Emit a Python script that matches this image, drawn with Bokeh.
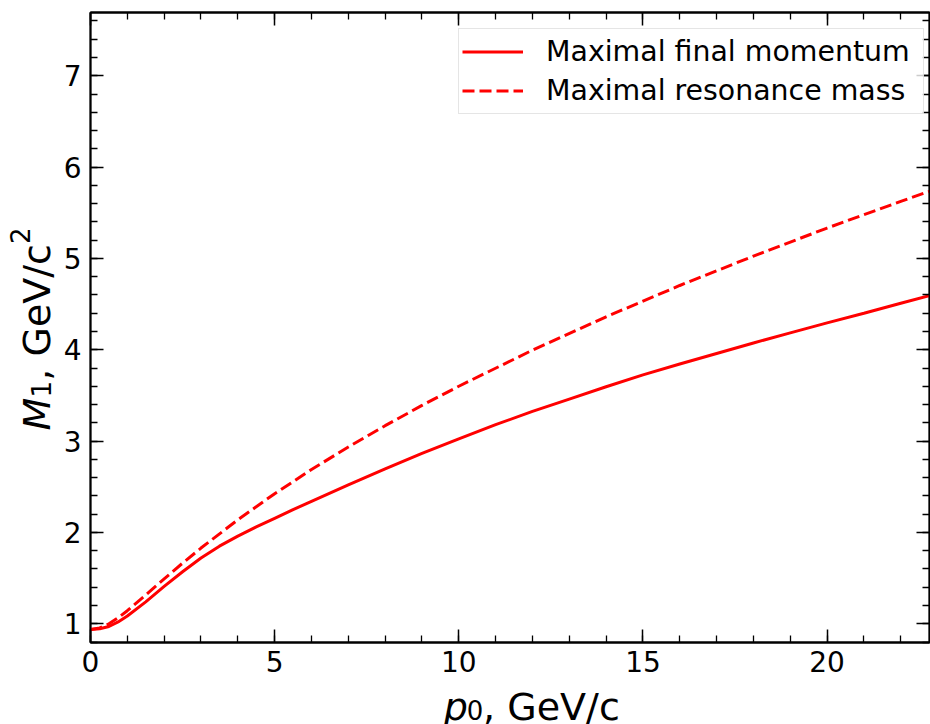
from bokeh.plotting import figure
from bokeh.models import (LinearAxis, SingleIntervalTicker, Range1d, Legend,
                          LegendItem, CustomJSTickFormatter)
from bokeh.layouts import row, column
from bokeh.core.properties import value
from bokeh.embed import file_html
from bokeh.resources import INLINE
import math

# ---- data ----
p0_solid = [0, 0.25, 0.5, 0.75, 1, 1.5, 2, 2.5, 3, 3.5, 4, 4.5, 5, 5.5, 6, 7, 8, 9, 10,
            11, 12, 13, 14, 15, 16, 17, 18, 19, 20, 21, 22, 22.8]
m1_solid = [0.938, 0.945, 0.97, 1.02, 1.085, 1.24, 1.41, 1.57, 1.72, 1.85, 1.96, 2.06,
            2.155, 2.25, 2.34, 2.52, 2.695, 2.865, 3.025, 3.18, 3.325, 3.46, 3.595, 3.725,
            3.845, 3.96, 4.075, 4.185, 4.295, 4.40, 4.51, 4.595]
p0_dash = [0, 0.25, 0.5, 0.75, 1, 1.5, 2, 2.5, 3, 4, 5, 6, 7, 8, 9, 10, 12, 14, 16,
           18, 20, 22, 22.8]
m1_dash = [0.938, 0.954, 1.0, 1.065, 1.143, 1.316, 1.492, 1.664, 1.829, 2.139, 2.424,
           2.689, 2.936, 3.169, 3.391, 3.601, 3.996, 4.361, 4.704, 5.026, 5.333, 5.625,
           5.738]
legend_labels = ["Maximal final momentum", "Maximal resonance mass"]
x_range = (0, 22.78)
y_range = (0.795, 7.693)

FONT = "DejaVu Sans"
TICK_PX = "28px"
LABEL_PX = "38px"
SCRIPT_PX = "26px"
LEFT_W = 56
MAIN_W = 930 - LEFT_W
MAIN_H = 686
BOTTOM_H = 724 - MAIN_H
SHIFT = 14  # compensation of the text glyph baseline offset

p = figure(width=MAIN_W, height=MAIN_H, output_backend="svg", toolbar_location=None,
           x_range=Range1d(*x_range), y_range=Range1d(*y_range),
           min_border_left=34, min_border_right=1, min_border_top=12, min_border_bottom=44,
           x_axis_location=None, y_axis_location=None)
p.grid.visible = False
p.outline_line_color = "black"
p.outline_line_width = 1.8
p.background_fill_color = "white"
p.border_fill_color = "white"

blank = CustomJSTickFormatter(code="return ''")

def style_axis(ax, labels=True):
    ax.axis_line_color = "black"
    ax.axis_line_width = 1.8
    ax.major_tick_in = 13
    ax.major_tick_out = 0
    ax.minor_tick_in = 7
    ax.minor_tick_out = 0
    ax.major_tick_line_width = 1.5
    ax.minor_tick_line_width = 1.3
    ax.major_tick_line_color = "black"
    ax.minor_tick_line_color = "black"
    if labels:
        ax.major_label_text_font = FONT
        ax.major_label_text_font_size = TICK_PX
        ax.major_label_text_color = "black"
    else:
        ax.formatter = blank
        ax.major_label_standoff = 0
        ax.major_label_text_font_size = "1px"

xb = LinearAxis(ticker=SingleIntervalTicker(interval=5, num_minor_ticks=5))
style_axis(xb)
xb.major_label_standoff = 8
xt = LinearAxis(ticker=SingleIntervalTicker(interval=5, num_minor_ticks=5))
style_axis(xt, labels=False)
yl = LinearAxis(ticker=SingleIntervalTicker(interval=1, num_minor_ticks=5))
style_axis(yl)
yl.major_label_standoff = 9
yr = LinearAxis(ticker=SingleIntervalTicker(interval=1, num_minor_ticks=5))
style_axis(yr, labels=False)
p.add_layout(xb, "below")
p.add_layout(xt, "above")
p.add_layout(yl, "left")
p.add_layout(yr, "right")

r1 = p.line(p0_solid, m1_solid, line_color="#ff0000", line_width=3)
r2 = p.line(p0_dash, m1_dash, line_color="#ff0000", line_width=3, line_dash="12 5")

legend = Legend(items=[LegendItem(label=legend_labels[0], renderers=[r1]),
                       LegendItem(label=legend_labels[1], renderers=[r2])],
                location=(368, 528))
legend.label_text_font = FONT
legend.label_text_font_size = "28.4px"
legend.label_text_color = "black"
legend.glyph_width = 61
legend.glyph_height = 39
legend.label_height = 39
legend.label_width = 374
legend.label_standoff = 23
legend.padding = 3
legend.spacing = 0
legend.margin = 0
legend.title_standoff = 0
legend.border_line_color = "#cccccc"
legend.border_line_width = 1.5
legend.background_fill_color = "white"
legend.background_fill_alpha = 0.8
p.add_layout(legend, "center")


def label_fig(w, h):
    f = figure(width=w, height=h, output_backend="svg", toolbar_location=None,
               x_range=Range1d(0, w), y_range=Range1d(0, h),
               min_border_left=0, min_border_right=0, min_border_top=0,
               min_border_bottom=0, x_axis_location=None, y_axis_location=None)
    f.grid.visible = False
    f.outline_line_color = None
    f.background_fill_color = "white"
    f.border_fill_color = "white"
    return f


def put(f, text, x, y, size, italic=False, angle=0.0):
    f.text(x=[x], y=[y], text=[text], text_font=value(FONT), text_font_size=value(size),
           text_font_style=value("italic" if italic else "normal"), text_color="black",
           text_align="left", text_baseline="alphabetic", angle=angle)


# y axis label: M_1, GeV/c^2 (reads bottom to top)
fy = label_fig(LEFT_W, 724)
A = math.pi / 2
put(fy, "M", 50 - SHIFT, 294, LABEL_PX, italic=True, angle=A)
put(fy, "1", 54 - SHIFT, 327, SCRIPT_PX, angle=A)
put(fy, ", GeV/c", 50 - SHIFT, 343.8, LABEL_PX, angle=A)
put(fy, "2", 33 - SHIFT, 480.5, SCRIPT_PX, angle=A)

# x axis label: p_0, GeV/c
fx = label_fig(MAIN_W, BOTTOM_H)
put(fx, "p", 368, 4 + SHIFT, LABEL_PX, italic=True)
put(fx, "0", 392, 1 + SHIFT, SCRIPT_PX)
put(fx, ", GeV/c", 409, 4 + SHIFT, LABEL_PX)

layout = row(fy, column(p, fx, spacing=0), spacing=0)

open("out.html", "w").write(file_html(layout, INLINE))
